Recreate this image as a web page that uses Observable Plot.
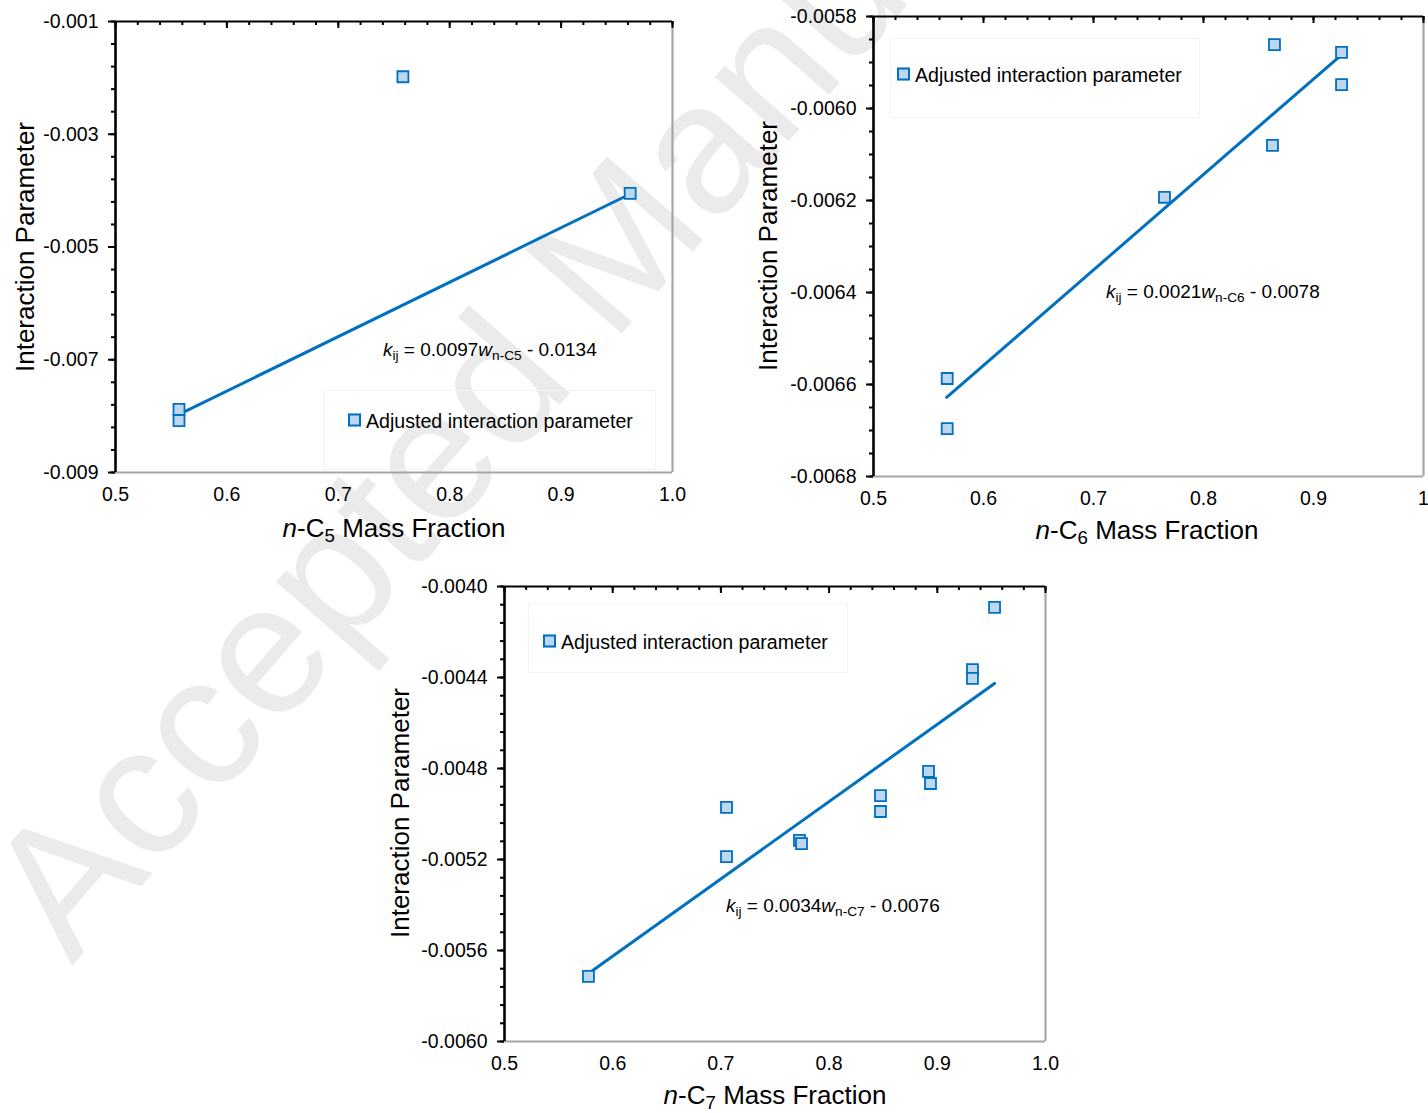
<!DOCTYPE html>
<html>
<head>
<meta charset="utf-8">
<script src="https://cdn.jsdelivr.net/npm/d3@7"></script>
<script src="https://cdn.jsdelivr.net/npm/@observablehq/plot@0.6"></script>
<style>
  body { margin: 0; background: white; }
  #root { position: relative; width: 1428px; height: 1113px; overflow: hidden; background: white;
          font-family: "Liberation Sans", Arial, sans-serif; color: #000; }
  .abs { position: absolute; white-space: nowrap; }
  .sub { font-size: 0.72em; position: relative; top: 0.28em; }
  .legend-sq { display: inline-block; width: 9px; height: 9px; border: 2px solid #0070C0; background: #BDD7EE; vertical-align: middle; margin-right: 5px; position: relative; top: -2px; }
</style>
</head>
<body>
<div id="root"></div>
<script>
// ---------- data ----------
const c5X = [0.557, 0.557, 0.758, 0.962];
const c5Y = [-0.00788, -0.00808, -0.00198, -0.00405];
const c5FitX = [0.557, 0.962];
const c5FitY = [-0.00797, -0.00406];

const c6X = [0.567, 0.567, 0.7645, 0.8645, 0.8627, 0.9255, 0.9255];
const c6Y = [-0.006587, -0.006696, -0.006193, -0.005861, -0.00608, -0.005878, -0.005948];
const c6FitX = [0.5665, 0.9236];
const c6FitY = [-0.006628, -0.005887];

const c7X = [0.5776, 0.7052, 0.7052, 0.7726, 0.7745, 0.8475, 0.8475, 0.8919, 0.8937, 0.9325, 0.9325, 0.9529];
const c7Y = [-0.005714, -0.004971, -0.005187, -0.005116, -0.00513, -0.004919, -0.004989, -0.004813, -0.004866, -0.004365, -0.004404, -0.004092];
const c7FitX = [0.5776, 0.9529];
const c7FitY = [-0.005701, -0.004426];

const xTicks = [0.5, 0.6, 0.7, 0.8, 0.9, 1.0];
const xLabelsA = ["0.5", "0.6", "0.7", "0.8", "0.9", "1.0"];
const xLabelsB = ["0.5", "0.6", "0.7", "0.8", "0.9", "1"];

const c5YTicks = [-0.009, -0.007, -0.005, -0.003, -0.001];
const c5YLabels = ["-0.009", "-0.007", "-0.005", "-0.003", "-0.001"];
const c6YTicks = [-0.0068, -0.0066, -0.0064, -0.0062, -0.0060, -0.0058];
const c6YLabels = ["-0.0068", "-0.0066", "-0.0064", "-0.0062", "-0.0060", "-0.0058"];
const c7YTicks = [-0.0060, -0.0056, -0.0052, -0.0048, -0.0044, -0.0040];
const c7YLabels = ["-0.0060", "-0.0056", "-0.0052", "-0.0048", "-0.0044", "-0.0040"];

const legendText = "Adjusted interaction parameter";
const yTitle = "Interaction Parameter";

// ---------- drawing ----------
const root = document.getElementById("root");
const FONT = '"Liberation Sans", Arial, sans-serif';
const BLUE = "#0070C0", FILL = "#BDD7EE", GREY = "#a6a6a6";

// watermark
const wm = d3.select(root).append("svg")
  .attr("width", 1428).attr("height", 1113)
  .style("position", "absolute").style("left", 0).style("top", 0);
wm.append("text")
  .attr("x", 72).attr("y", 966)
  .attr("transform", "rotate(-49 72 966)")
  .attr("font-family", FONT).attr("font-size", 185)
  .attr("fill", "#ebebeb")
  .text("Accepted Manuscript");

function key(v) { return (+v).toFixed(6); }

function panel(o) {
  const ph = o.height - o.mT - o.mB;
  const labelMap = new Map(o.yTicks.map((t, i) => [key(t), o.yLabels[i]]));
  const xLabelMap = new Map(xTicks.map((t, i) => [key(t), o.xLabels[i]]));
  const yMinor = d3.range(0, Math.round((o.yDomain[1] - o.yDomain[0]) / o.yMinorStep) + 1)
    .map(i => o.yDomain[0] + i * o.yMinorStep);
  const xMinor = d3.range(0, 26).map(i => 0.5 + i * 0.02);
  const pts = o.xs.map((x, i) => ({x, y: o.ys[i]}));
  const fit = o.fitX.map((x, i) => ({x, y: o.fitY[i]}));
  const chart = Plot.plot({
    width: o.width, height: o.height,
    marginLeft: o.mL, marginRight: o.mR, marginTop: o.mT, marginBottom: o.mB,
    style: {background: "transparent", fontFamily: FONT, fontSize: "19.5px", color: "#000", overflow: "visible"},
    x: {domain: [0.5, 1.0], label: null},
    y: {domain: o.yDomain, label: null},
    marks: [
      Plot.ruleY([o.yDomain[0]], {stroke: GREY, strokeWidth: 2.2}),
      Plot.ruleX([1.0], {stroke: GREY, strokeWidth: 2.2}),
      Plot.ruleY([o.yDomain[1]], {stroke: "#000", strokeWidth: 2.2}),
      Plot.tickX(xMinor, {x: d => d, insetBottom: ph - 4, stroke: "#000", strokeWidth: 2}),
      Plot.tickX(xTicks, {x: d => d, insetBottom: ph - 7, stroke: "#000", strokeWidth: 2}),
      Plot.axisY({ticks: yMinor, tickSize: 4, tickFormat: () => "", strokeWidth: 2, label: null}),
      Plot.axisY({ticks: o.yTicks, tickSize: 7, tickPadding: 10, strokeWidth: 2,
                  tickFormat: d => labelMap.get(key(d)), label: null}),
      Plot.axisX({ticks: xTicks, tickSize: 0, tickPadding: 15,
                  tickFormat: d => xLabelMap.get(key(d)), label: null}),
      Plot.ruleX([0.5], {stroke: "#000", strokeWidth: 2.6}),
      Plot.line(fit, {x: "x", y: "y", stroke: BLUE, strokeWidth: 3}),
      Plot.dot(pts, {x: "x", y: "y", symbol: "square", r: 6.2, fill: FILL, stroke: BLUE, strokeWidth: 1.8})
    ]
  });
  const wrap = document.createElement("div");
  wrap.className = "abs";
  wrap.style.left = o.left + "px";
  wrap.style.top = o.top + "px";
  wrap.appendChild(chart);
  root.appendChild(wrap);
}

function html(left, top, content, styles) {
  const d = document.createElement("div");
  d.className = "abs";
  d.style.left = left + "px";
  d.style.top = top + "px";
  Object.assign(d.style, styles || {});
  d.innerHTML = content;
  root.appendChild(d);
  return d;
}

// legend boxes (faint)
function faintBox(l, t, w, h) {
  html(l, t, "", {width: w + "px", height: h + "px", border: "1px solid #f3f3f3", boxSizing: "border-box"});
}
faintBox(324, 390, 332, 80);
faintBox(890, 38, 310, 80);
faintBox(528, 603, 320, 70);

panel({left: 0, top: 0, width: 700, height: 550, mL: 115, mR: 28, mT: 21, mB: 78,
  yDomain: [-0.009, -0.001], yTicks: c5YTicks, yLabels: c5YLabels, yMinorStep: 0.0004,
  xLabels: xLabelsA, xs: c5X, ys: c5Y, fitX: c5FitX, fitY: c5FitY});
panel({left: 760, top: 0, width: 668, height: 550, mL: 113, mR: 5, mT: 16, mB: 74,
  yDomain: [-0.0068, -0.0058], yTicks: c6YTicks, yLabels: c6YLabels, yMinorStep: 0.00005,
  xLabels: xLabelsB, xs: c6X, ys: c6Y, fitX: c6FitX, fitY: c6FitY});
panel({left: 390, top: 570, width: 680, height: 543, mL: 114, mR: 25, mT: 16, mB: 72,
  yDomain: [-0.0060, -0.0040], yTicks: c7YTicks, yLabels: c7YLabels, yMinorStep: 0.00008,
  xLabels: xLabelsA, xs: c7X, ys: c7Y, fitX: c7FitX, fitY: c7FitY});

// axis titles
const titleStyle = {fontSize: "26px", transform: "translate(-50%,-50%)"};
const yTitleStyle = {fontSize: "26px", transform: "translate(-50%,-50%) rotate(-90deg)"};
html(25, 247, yTitle, yTitleStyle);
html(768, 246, yTitle, yTitleStyle);
html(400, 813, yTitle, yTitleStyle);
html(394, 528, '<i>n</i>-C<span class="sub">5</span> Mass Fraction', titleStyle);
html(1147, 530, '<i>n</i>-C<span class="sub">6</span> Mass Fraction', titleStyle);
html(775, 1095, '<i>n</i>-C<span class="sub">7</span> Mass Fraction', titleStyle);

// equations
const eqStyle = {fontSize: "19px", transform: "translateY(-50%)"};
html(383, 350, '<i>k</i><span class="sub">ij</span> = 0.0097<i>w</i><span class="sub">n-C5</span> - 0.0134', eqStyle);
html(1106, 292, '<i>k</i><span class="sub">ij</span> = 0.0021<i>w</i><span class="sub">n-C6</span> - 0.0078', eqStyle);
html(726, 906, '<i>k</i><span class="sub">ij</span> = 0.0034<i>w</i><span class="sub">n-C7</span> - 0.0076', eqStyle);

// legends
const lgStyle = {fontSize: "19.6px", transform: "translateY(-50%)"};
html(348, 421, '<span class="legend-sq"></span>' + legendText, lgStyle);
html(897, 75, '<span class="legend-sq"></span>' + legendText, lgStyle);
html(543, 642, '<span class="legend-sq"></span>' + legendText, lgStyle);
</script>
</body>
</html>
